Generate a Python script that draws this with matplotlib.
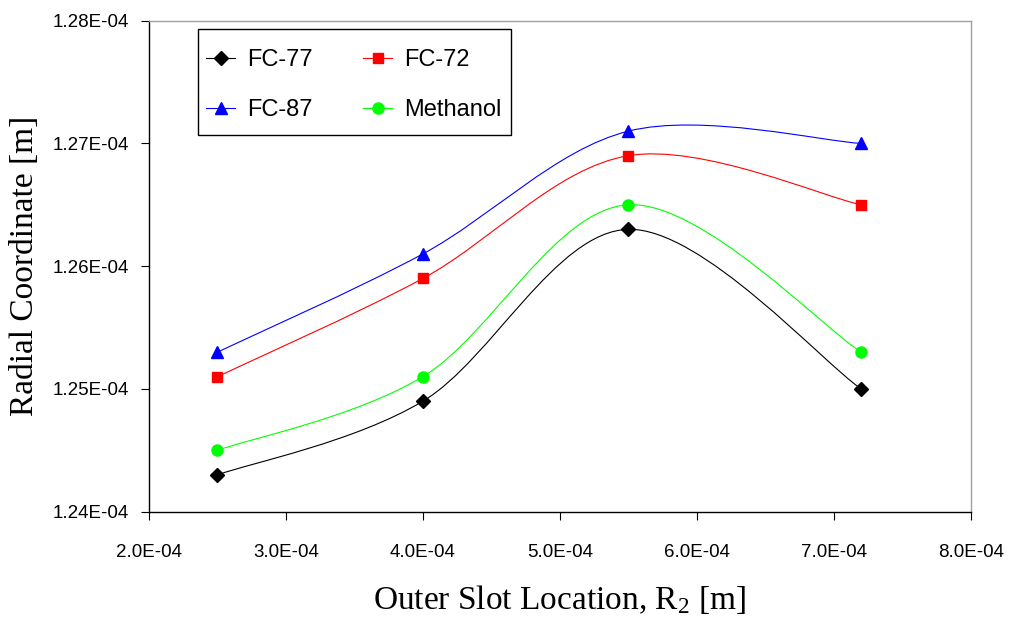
import matplotlib
matplotlib.use("Agg")
import matplotlib.pyplot as plt
from matplotlib.path import Path
from matplotlib.patches import PathPatch, Rectangle
from matplotlib.lines import Line2D
from matplotlib.ticker import FuncFormatter, FixedLocator

plt.rcParams["mathtext.fontset"] = "custom"
plt.rcParams["mathtext.rm"] = "Liberation Serif"
plt.rcParams["mathtext.it"] = "Liberation Serif:italic"

# Outer slot location R2 [m]
slot_location = [2.5e-4, 4.0e-4, 5.5e-4, 7.2e-4]

# Radial coordinate [m] per working fluid
fc77 = [1.243e-4, 1.249e-4, 1.263e-4, 1.250e-4]
fc72 = [1.251e-4, 1.259e-4, 1.269e-4, 1.265e-4]
fc87 = [1.253e-4, 1.261e-4, 1.271e-4, 1.270e-4]
methanol = [1.245e-4, 1.251e-4, 1.265e-4, 1.253e-4]

# Axis ticks
x_ticks = [2.0e-4, 3.0e-4, 4.0e-4, 5.0e-4, 6.0e-4, 7.0e-4, 8.0e-4]
y_ticks = [1.24e-4, 1.25e-4, 1.26e-4, 1.27e-4, 1.28e-4]

series = [
    ("FC-77", fc77, "black", "D", 7.5),
    ("FC-72", fc72, "#FF0000", "s", 7.5),
    ("FC-87", fc87, "#0000FF", "^", 8.5),
    ("Methanol", methanol, "#00FF00", "o", 8),
]


def smooth_path(xs, ys):
    """Cardinal-spline Bezier path through the points (spreadsheet-style smoothing)."""
    n = len(xs)
    verts = [(xs[0], ys[0])]
    codes = [Path.MOVETO]
    for i in range(n - 1):
        x0, y0 = xs[max(i - 1, 0)], ys[max(i - 1, 0)]
        x1, y1 = xs[i], ys[i]
        x2, y2 = xs[i + 1], ys[i + 1]
        x3, y3 = xs[min(i + 2, n - 1)], ys[min(i + 2, n - 1)]
        c1 = (x1 + (x2 - x0) / 6.0, y1 + (y2 - y0) / 6.0)
        c2 = (x2 - (x3 - x1) / 6.0, y2 - (y3 - y1) / 6.0)
        verts += [c1, c2, (x2, y2)]
        codes += [Path.CURVE4] * 3
    return Path(verts, codes)


fig = plt.figure(figsize=(10.11, 6.17), dpi=100)
ax = fig.add_axes([0.1474, 0.1707, 0.8127, 0.7958])

handles = []
for label, vals, color, marker, ms in series:
    patch = PathPatch(smooth_path(slot_location, vals), facecolor="none",
                      edgecolor=color, lw=0.8, zorder=2)
    ax.add_patch(patch)
    ax.plot(slot_location, vals, linestyle="none", marker=marker, ms=ms,
            color=color, markeredgecolor=color, zorder=3)
    handles.append(Line2D([], [], color=color, lw=0.8, marker=marker,
                          ms=ms, markeredgecolor=color, label=label))

ax.set_xlim(x_ticks[0], x_ticks[-1])
ax.set_ylim(y_ticks[0], y_ticks[-1])
ax.xaxis.set_major_locator(FixedLocator(x_ticks))
ax.yaxis.set_major_locator(FixedLocator(y_ticks))
ax.xaxis.set_major_formatter(FuncFormatter(lambda v, p: f"{v:.1E}"))
ax.yaxis.set_major_formatter(FuncFormatter(lambda v, p: f"{v:.2E}"))

for side in ("top", "right"):
    ax.spines[side].set_color("#A0A0A0")
    ax.spines[side].set_linewidth(1.0)
for side in ("left", "bottom"):
    ax.spines[side].set_color("black")
    ax.spines[side].set_linewidth(1.0)

ax.tick_params(axis="y", direction="out", length=5.5, width=0.8, pad=9,
               labelsize=13.5)
ax.tick_params(axis="x", direction="out", length=6, width=0.8, pad=17,
               labelsize=13.5)
for lab in ax.get_xticklabels() + ax.get_yticklabels():
    lab.set_fontfamily("Liberation Sans")

ax.set_xlabel(r"Outer Slot Location, R$_{\mathrm{2}}$ [m]",
              fontfamily="Liberation Serif", fontsize=24)
ax.set_ylabel("Radial Coordinate [m]", fontfamily="Liberation Serif",
              fontsize=24)
ax.xaxis.set_label_coords(0.5, -0.145)
ax.yaxis.set_label_coords(-0.133, 0.5)

# Legend box frame
ax.add_patch(Rectangle((0.06, 0.7665), 0.381, 0.216, transform=ax.transAxes,
                       facecolor="white", edgecolor="black", lw=1.0,
                       zorder=4))
leg = ax.legend(handles=[handles[0], handles[2], handles[1], handles[3]],
                ncol=2, loc="upper left", bbox_to_anchor=(0.0694, 0.942),
                borderaxespad=0, frameon=False, borderpad=0,
                prop={"family": "Liberation Sans", "size": 17},
                handlelength=1.23, handletextpad=0.5, columnspacing=2.15,
                labelspacing=1.2)
leg.set_zorder(5)

fig.savefig("out.png", dpi=100, facecolor="white")
